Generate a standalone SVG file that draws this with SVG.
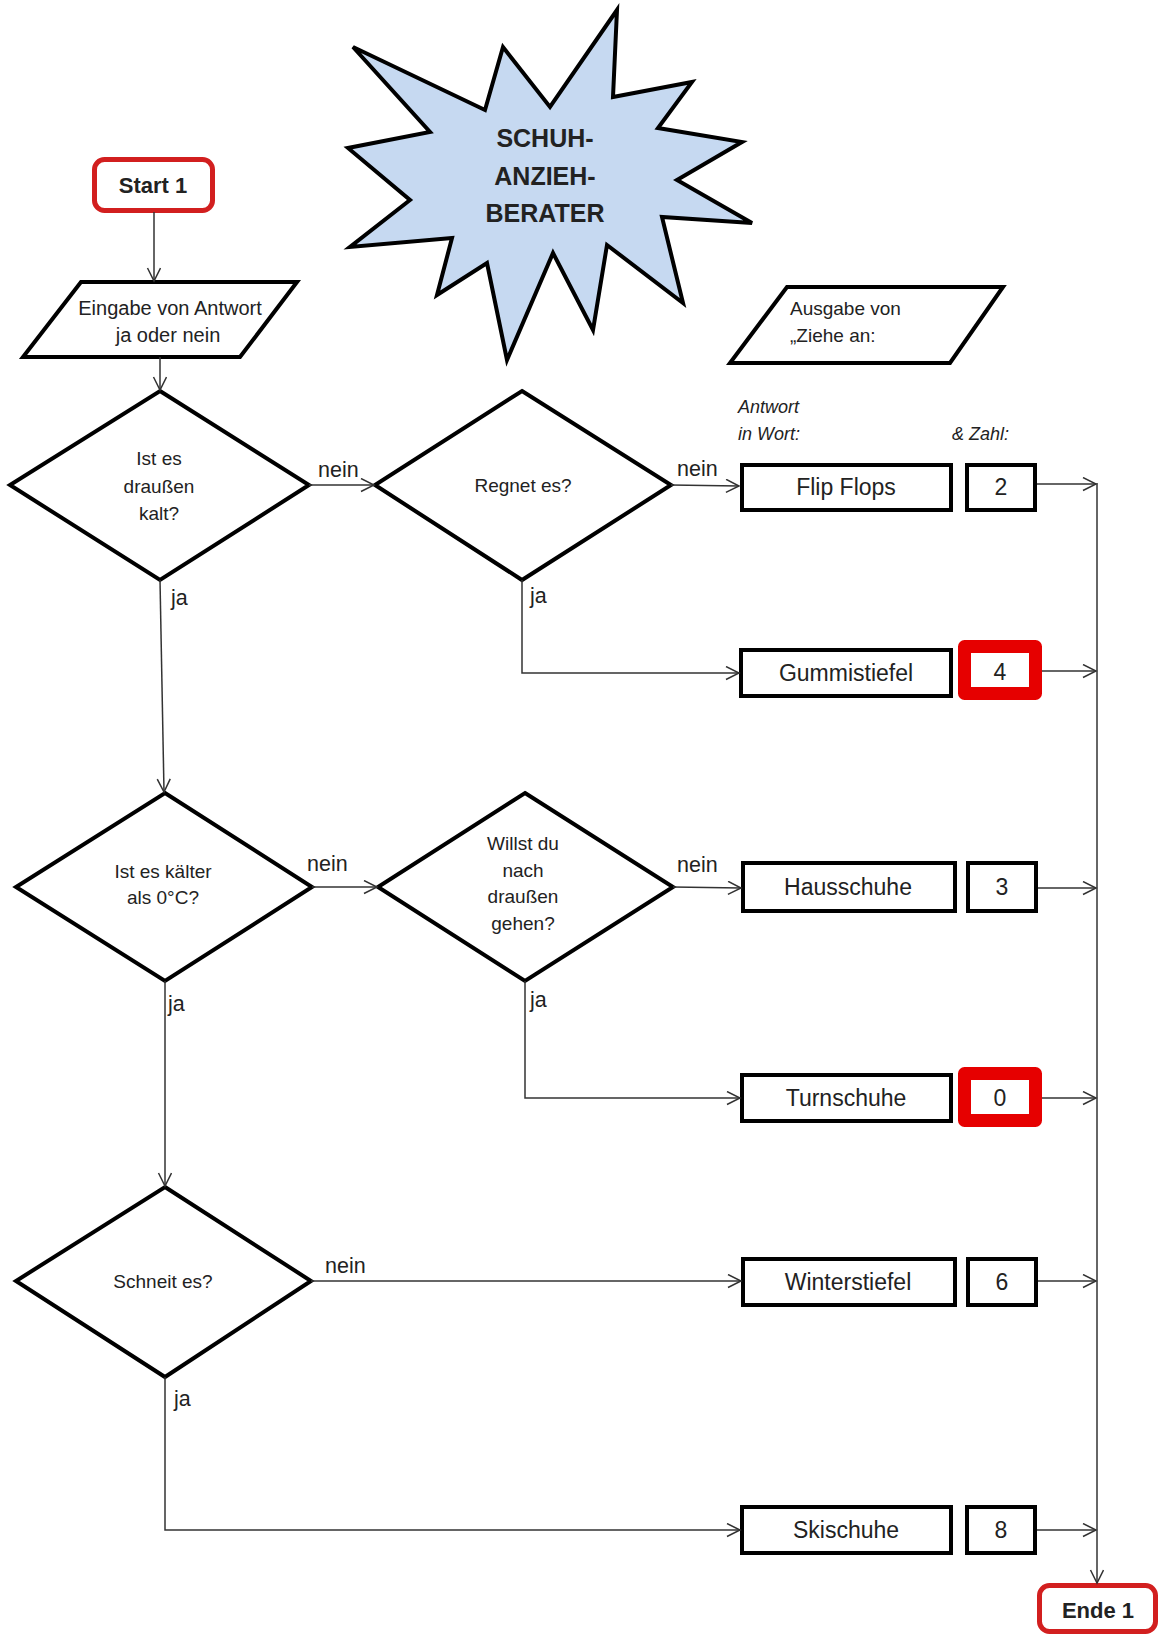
<svg xmlns="http://www.w3.org/2000/svg" width="1162" height="1635" viewBox="0 0 1162 1635">
<defs>
<style>
.shape{fill:#fff;stroke:#000;stroke-width:4;stroke-linejoin:miter}
.term{fill:#fff;stroke:#d21f1f;stroke-width:5}
.hl{fill:#fff;stroke:#e60000;stroke-width:13;stroke-linejoin:round}
.conn{fill:none;stroke:#333;stroke-width:1.5}
.t{font-family:"Liberation Sans",Arial,sans-serif;fill:#222}
.box{font-size:23px;text-anchor:middle}
.dia{font-size:19px;text-anchor:middle}
.lbl{font-size:21.5px}
.it{font-size:18px;font-style:italic}
.bold{font-weight:bold;text-anchor:middle}
</style>
<marker id="ah" markerUnits="userSpaceOnUse" markerWidth="16" markerHeight="16" refX="14" refY="7" orient="auto">
<path d="M1,0.5 L14,7 L1,13.5" fill="none" stroke="#333" stroke-width="1.5"/>
</marker>
</defs>
<rect width="1162" height="1635" fill="#fff"/>

<g id="title">
<polygon points="353,47 485,110 503,47 550,107 617,10 613,97 692,82 658,128 742,142 677,180 752,223 662,217 683,303 607,245 593,330 553,253 507,360 487,263 437,295 452,238 350,247 410,200 348,148 430,132" fill="#c6d9f1" stroke="#000" stroke-width="4" stroke-linejoin="miter"/>
<text class="t bold" font-size="25" fill="#1c2333" x="545" y="147">SCHUH-</text>
<text class="t bold" font-size="25" fill="#1c2333" x="545" y="185">ANZIEH-</text>
<text class="t bold" font-size="25" fill="#1c2333" x="545" y="222">BERATER</text>
</g>

<g id="start">
<rect class="term" x="94.5" y="159.5" width="118" height="51" rx="10"/>
<text class="t bold" font-size="22" x="153" y="193">Start 1</text>
</g>

<g id="eingabe">
<polygon class="shape" points="81,282 297,282 240,357 23,357"/>
<text class="t" font-size="20" text-anchor="middle" x="170" y="315">Eingabe von Antwort</text>
<text class="t" font-size="20" text-anchor="middle" x="168" y="342">ja oder nein</text>
</g>

<g id="ausgabe">
<polygon class="shape" points="787,287 1003,287 950,363 730,363"/>
<text class="t" font-size="19" x="790" y="315">Ausgabe von</text>
<text class="t" font-size="19" x="790" y="342">„Ziehe an:</text>
<text class="t it" x="738" y="413">Antwort</text>
<text class="t it" x="738" y="440">in Wort:</text>
<text class="t it" x="952" y="440">&amp; Zahl:</text>
</g>

<g id="d-kalt">
<polygon class="shape" points="160,391 309,485 160,580 10,485"/>
<text class="t dia" x="159" y="465">Ist es</text>
<text class="t dia" x="159" y="493">draußen</text>
<text class="t dia" x="159" y="520">kalt?</text>
</g>

<g id="d-regnet">
<polygon class="shape" points="522,391 671,485 522,580 375,485"/>
<text class="t dia" x="523" y="492">Regnet es?</text>
</g>

<g id="d-kaelter">
<polygon class="shape" points="165,793 312,887 165,981 16,887"/>
<text class="t dia" x="163" y="878">Ist es kälter</text>
<text class="t dia" x="163" y="904">als 0°C?</text>
</g>

<g id="d-willst">
<polygon class="shape" points="525,793 673,887 525,981 378,887"/>
<text class="t dia" x="523" y="850">Willst du</text>
<text class="t dia" x="523" y="877">nach</text>
<text class="t dia" x="523" y="903">draußen</text>
<text class="t dia" x="523" y="930">gehen?</text>
</g>

<g id="d-schneit">
<polygon class="shape" points="165,1187 311,1281 165,1377 16,1281"/>
<text class="t dia" x="163" y="1288">Schneit es?</text>
</g>

<g id="flipflops">
<rect class="shape" x="742" y="465" width="209" height="45"/>
<text class="t box" x="846" y="495">Flip Flops</text>
<rect class="shape" x="967" y="465" width="68" height="45"/>
<text class="t box" x="1001" y="495">2</text>
</g>

<g id="gummistiefel">
<rect class="shape" x="741" y="650" width="210" height="46"/>
<text class="t box" x="846" y="681">Gummistiefel</text>
<rect class="hl" x="964.5" y="646.5" width="71" height="47"/>
<text class="t box" x="1000" y="680">4</text>
</g>

<g id="hausschuhe">
<rect class="shape" x="743" y="863" width="212" height="48"/>
<text class="t box" x="848" y="895">Hausschuhe</text>
<rect class="shape" x="968" y="863" width="68" height="48"/>
<text class="t box" x="1002" y="895">3</text>
</g>

<g id="turnschuhe">
<rect class="shape" x="742" y="1075" width="209" height="46"/>
<text class="t box" x="846" y="1106">Turnschuhe</text>
<rect class="hl" x="964.5" y="1073.5" width="71" height="47"/>
<text class="t box" x="1000" y="1106">0</text>
</g>

<g id="winterstiefel">
<rect class="shape" x="743" y="1259" width="212" height="46"/>
<text class="t box" x="848" y="1290">Winterstiefel</text>
<rect class="shape" x="968" y="1259" width="68" height="46"/>
<text class="t box" x="1002" y="1290">6</text>
</g>

<g id="skischuhe">
<rect class="shape" x="742" y="1507" width="209" height="46"/>
<text class="t box" x="846" y="1538">Skischuhe</text>
<rect class="shape" x="967" y="1507" width="68" height="46"/>
<text class="t box" x="1001" y="1538">8</text>
</g>

<g id="ende">
<rect class="term" x="1039.5" y="1585.5" width="116" height="46" rx="10"/>
<text class="t bold" font-size="22" x="1098" y="1618">Ende 1</text>
</g>

<g id="connectors">
<line class="conn" x1="154" y1="212" x2="154" y2="281" marker-end="url(#ah)"/>
<line class="conn" x1="160" y1="357" x2="160" y2="390" marker-end="url(#ah)"/>
<line class="conn" x1="309" y1="485" x2="374" y2="485" marker-end="url(#ah)"/>
<line class="conn" x1="671" y1="485" x2="739" y2="486" marker-end="url(#ah)"/>
<line class="conn" x1="1037" y1="484" x2="1096" y2="484" marker-end="url(#ah)"/>
<polyline class="conn" points="522,580 522,673 739,673" marker-end="url(#ah)"/>
<line class="conn" x1="1042" y1="671" x2="1096" y2="671" marker-end="url(#ah)"/>
<line class="conn" x1="160" y1="580" x2="164" y2="792" marker-end="url(#ah)"/>
<line class="conn" x1="312" y1="887" x2="377" y2="887" marker-end="url(#ah)"/>
<line class="conn" x1="673" y1="887" x2="741" y2="888" marker-end="url(#ah)"/>
<line class="conn" x1="1038" y1="888" x2="1096" y2="888" marker-end="url(#ah)"/>
<polyline class="conn" points="525,981 525,1098 740,1098" marker-end="url(#ah)"/>
<line class="conn" x1="1042" y1="1098" x2="1096" y2="1098" marker-end="url(#ah)"/>
<line class="conn" x1="165" y1="981" x2="165" y2="1186" marker-end="url(#ah)"/>
<line class="conn" x1="311" y1="1281" x2="741" y2="1281" marker-end="url(#ah)"/>
<line class="conn" x1="1038" y1="1281" x2="1096" y2="1281" marker-end="url(#ah)"/>
<polyline class="conn" points="165,1377 165,1530 740,1530" marker-end="url(#ah)"/>
<line class="conn" x1="1037" y1="1530" x2="1096" y2="1530" marker-end="url(#ah)"/>
<line class="conn" x1="1097" y1="483" x2="1097" y2="1583" marker-end="url(#ah)"/>
<text class="t lbl" x="318" y="477">nein</text>
<text class="t lbl" x="677" y="476">nein</text>
<text class="t lbl" x="307" y="871">nein</text>
<text class="t lbl" x="677" y="872">nein</text>
<text class="t lbl" x="325" y="1273">nein</text>
<text class="t lbl" x="171" y="605">ja</text>
<text class="t lbl" x="530" y="603">ja</text>
<text class="t lbl" x="168" y="1011">ja</text>
<text class="t lbl" x="530" y="1007">ja</text>
<text class="t lbl" x="174" y="1406">ja</text>
</g>
</svg>
